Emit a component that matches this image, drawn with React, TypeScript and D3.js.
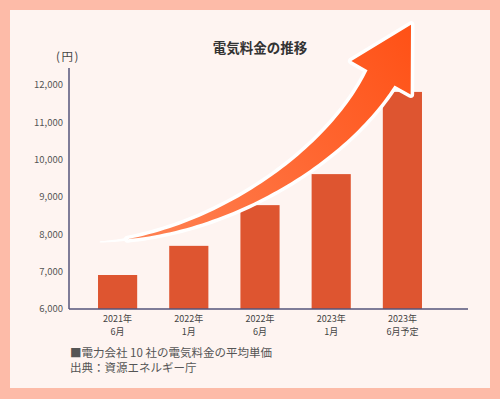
import React from 'react'
import * as d3 from 'd3'

// data
const categories = ['2021年6月', '2022年1月', '2022年6月', '2023年1月', '2023年6月予定']
const yearLabels = ['2021年', '2022年', '2022年', '2023年', '2023年']
const monthLabels = ['6月', '1月', '6月', '1月', '6月予定']
const prices = [6910, 7690, 8780, 9610, 11810]
const yTicks = [6000, 7000, 8000, 9000, 10000, 11000, 12000]

// arrow guide points in data units: [category index, yen]
const arrowCurve: [number, number][] = [[-0.25, 7795], [1.37, 7956], [3.05, 9991], [3.7, 12188]]

const W = 500, H = 399
const font = "'Noto Sans CJK JP', 'Noto Sans', sans-serif"

export default function App() {
    const margin = {left: 69, right: 32, top: 68, bottom: 90}
    const x0 = margin.left, x1 = W - margin.right
    const yBottom = H - margin.bottom

    const x = d3.scaleBand<string>()
        .domain(categories)
        .range([82, 438])
        .paddingInner(0.45)
        .paddingOuter(0.225)

    const y = d3.scaleLinear()
        .domain([6000, 12450])
        .range([yBottom, margin.top])

    // index -> band centre, for the arrow
    const xi = d3.scaleLinear()
        .domain([0, categories.length - 1])
        .range([x(categories[0])! + x.bandwidth() / 2, x(categories[categories.length - 1])! + x.bandwidth() / 2])

    const P = arrowCurve.map(([i, v]) => [xi(i), y(v)])
    const bez = (t: number) => {
        const u = 1 - t
        const a = u * u * u, b = 3 * u * u * t, c = 3 * u * t * t, d = t * t * t
        return [a * P[0][0] + b * P[1][0] + c * P[2][0] + d * P[3][0],
                a * P[0][1] + b * P[1][1] + c * P[2][1] + d * P[3][1]]
    }
    const deriv = (t: number) => {
        const u = 1 - t
        const dx = 3 * u * u * (P[1][0] - P[0][0]) + 6 * u * t * (P[2][0] - P[1][0]) + 3 * t * t * (P[3][0] - P[2][0])
        const dy = 3 * u * u * (P[1][1] - P[0][1]) + 6 * u * t * (P[2][1] - P[1][1]) + 3 * t * t * (P[3][1] - P[2][1])
        const l = Math.hypot(dx, dy)
        return [dx / l, dy / l]
    }

    const t0 = 0.08, endW = 31
    const widthAt = (t: number) => Math.max(0, endW * (t - t0) / (1 - t0))
    const N = 60
    const top: [number, number][] = [], bot: [number, number][] = []
    for (let k = 0; k <= N; k++) {
        const t = t0 + (1 - t0) * k / N
        const [cx, cy] = bez(t)
        const [dx, dy] = deriv(t)
        const nx = dy, ny = -dx
        const hw = widthAt(t) / 2
        top.push([cx + nx * hw, cy + ny * hw])
        bot.push([cx - nx * hw, cy - ny * hw])
    }
    const [ex, ey] = bez(1)
    const [ax, ay] = deriv(1)
    const nx = ay, ny = -ax
    const headHalf = 34, headLen = 61
    const head: [number, number][] = [
        [ex + nx * headHalf, ey + ny * headHalf],
        [ex + ax * headLen, ey + ay * headLen],
        [ex - nx * headHalf, ey - ny * headHalf],
    ]
    const arrowPts = [...top, ...head, ...bot.reverse()]
    const arrowPath = d3.line()(arrowPts) + 'Z'

    // thin white tail in front of the orange
    const tailTop: [number, number][] = [], tailBot: [number, number][] = []
    for (let k = 0; k <= 20; k++) {
        const t = (t0 + 0.06) * k / 20
        const [cx, cy] = bez(t)
        const [dx, dy] = deriv(t)
        const hw = 0.6 + 1.6 * k / 20
        tailTop.push([cx + dy * hw, cy - dx * hw])
        tailBot.push([cx - dy * hw, cy + dx * hw])
    }
    const tailPath = d3.line()([...tailTop, ...tailBot.reverse()]) + 'Z'

    const fmt = d3.format(',')

    return (
        <svg width={W} height={H} style={{position: 'absolute', left: 0, top: 0}} fontFamily={font}>
            <defs>
                <linearGradient id="arrowGrad" gradientUnits="userSpaceOnUse"
                                x1={P[0][0] + 20} y1={P[0][1]} x2={ex + ax * headLen} y2={ey + ay * headLen}>
                    <stop offset="0" stopColor="#ff8456"/>
                    <stop offset="1" stopColor="#ff5116"/>
                </linearGradient>
            </defs>
            <rect width={W} height={H} fill="#fdbba8"/>
            <rect x={10} y={10} width={480} height={378} fill="#fef4f1"/>

            <text x={260} y={53} textAnchor="middle" fontSize={13.5} fontWeight="bold" fill="#333">電気料金の推移</text>
            <text x={68} y={61} textAnchor="middle" fontSize={11.5} letterSpacing={1.5} fill="#444">(円)</text>

            {yTicks.map(v =>
                <text key={v} x={x0 - 6} y={y(v)} dy="0.35em" textAnchor="end" fontSize={9.5} fill="#555">{fmt(v)}</text>
            )}

            {prices.map((v, i) =>
                <rect key={categories[i]} x={x(categories[i])} y={y(v)} width={x.bandwidth()} height={yBottom - y(v)} fill="#de5530"/>
            )}

            <path d={tailPath} fill="#fff"/>
            <path d={arrowPath} fill="#fff" stroke="#fff" strokeWidth={7} strokeLinejoin="round"/>
            <path d={arrowPath} fill="url(#arrowGrad)"/>

            <line x1={x0} x2={x0} y1={y.range()[1]} y2={yBottom} stroke="#55557a" strokeWidth={1.5}/>
            <line x1={x0} x2={x1} y1={yBottom} y2={yBottom} stroke="#55557a" strokeWidth={1.5}/>

            {categories.map((c, i) => {
                const cx = x(c)! + x.bandwidth() / 2
                return (
                    <text key={c} fontSize={9} fill="#444" textAnchor="middle" x={cx} y={yBottom + 12.5}>
                        <tspan x={cx}>{yearLabels[i]}</tspan>
                        <tspan x={cx} dy={13}>{monthLabels[i]}</tspan>
                    </text>
                )
            })}

            <text x={70} y={357} fontSize={11.5} fill="#555">■電力会社 10 社の電気料金の平均単価</text>
            <text x={70} y={372} fontSize={11.5} fill="#555">出典：資源エネルギー庁</text>
        </svg>
    )
}
